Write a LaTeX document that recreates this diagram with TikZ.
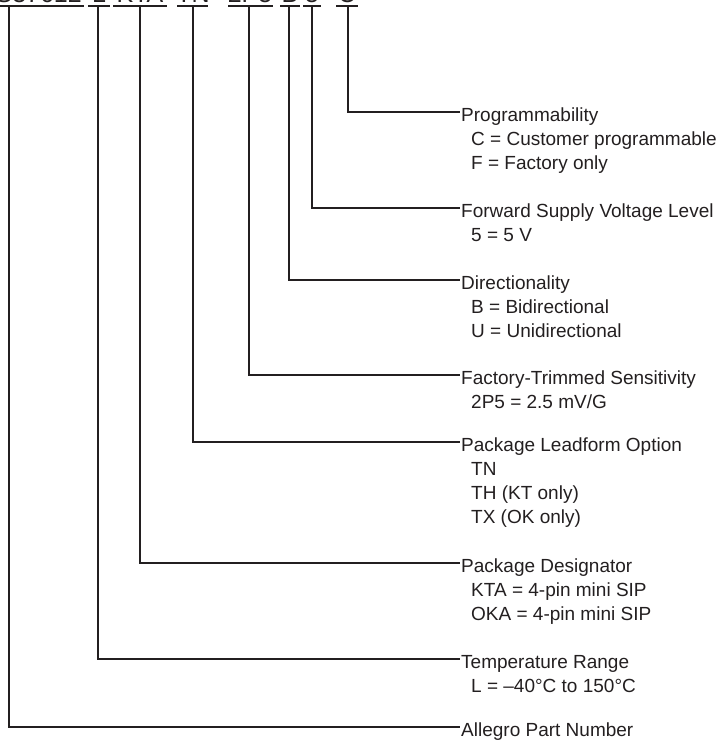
\documentclass[tikz,border=0pt]{standalone}
\usepackage{fontspec}
\setmainfont{Liberation Sans}
\definecolor{ink}{HTML}{231F20}
\begin{document}
\begin{tikzpicture}[x=1pt,y=-1pt,
  conn/.style={line width=1.3pt, draw=ink},
  uline/.style={line width=1.5pt, draw=ink},
  hdr/.style={anchor=base west, inner sep=0pt, font=\fontsize{19}{24}\selectfont, text=ink},
  pn/.style={anchor=base, inner sep=0pt, font=\fontsize{25}{30}\selectfont, text=ink}]
\useasboundingbox (0,0) rectangle (718,742);

% part number (mostly above the visible area)
\node[pn, anchor=base east] (pa) at (82,2) {ACS37612};
\node[pn] (pb) at (99,2) {L};
\node[pn] (pc) at (140,2) {KTA};
\node[pn] (pd) at (193,2) {TN};
\node[pn] (pe) at (250,2) {2P5};
\node[pn] (pf) at (290,2) {B};
\node[pn] (pg) at (312,2) {5};
\node[pn] (ph) at (347,2) {C};
\draw[uline] (0,6) -- (84,6);
\draw[uline] (88,6) -- (110,6);
\draw[uline] (113,6) -- (167,6);
\draw[uline] (177,6) -- (208,6);
\draw[uline] (228,6) -- (273,6);
\draw[uline] (280,6) -- (300,6);
\draw[uline] (303,6) -- (321,6);
\draw[uline] (336,6) -- (358,6);

% tops of the connectors
\coordinate (t1) at (348,6);
\coordinate (t2) at (312,6);
\coordinate (t3) at (289,6);
\coordinate (t4) at (249,6);
\coordinate (t5) at (193,6);
\coordinate (t6) at (140,6);
\coordinate (t7) at (98,6);
\coordinate (t8) at (9,6);

% ends of the connectors
\coordinate (e1) at (460,112);
\coordinate (e2) at (460,208);
\coordinate (e3) at (460,280);
\coordinate (e4) at (460,375);
\coordinate (e5) at (460,442);
\coordinate (e6) at (460,563);
\coordinate (e7) at (460,659);
\coordinate (e8) at (460,727);

% labels
\node[hdr] (h1) at (461,121) {Programmability};
\node[hdr] (h1a) at (471,145) {C = Customer programmable};
\node[hdr] (h1b) at (471,169) {F = Factory only};

\node[hdr] (h2) at (461,217) {Forward Supply Voltage Level};
\node[hdr] (h2a) at (471,241) {5 = 5 V};

\node[hdr] (h3) at (461,289) {Directionality};
\node[hdr] (h3a) at (471,313) {B = Bidirectional};
\node[hdr] (h3b) at (471,337) {U = Unidirectional};

\node[hdr] (h4) at (461,384) {Factory-Trimmed Sensitivity};
\node[hdr] (h4a) at (471,408) {2P5 = 2.5 mV/G};

\node[hdr] (h5) at (461,451) {Package Leadform Option};
\node[hdr] (h5a) at (471,475) {TN};
\node[hdr] (h5b) at (471,499) {TH (KT only)};
\node[hdr] (h5c) at (471,523) {TX (OK only)};

\node[hdr] (h6) at (461,572) {Package Designator};
\node[hdr] (h6a) at (471,596) {KTA = 4-pin mini SIP};
\node[hdr] (h6b) at (471,620) {OKA = 4-pin mini SIP};

\node[hdr] (h7) at (461,668) {Temperature Range};
\node[hdr] (h7a) at (471,692) {L = –40°C to 150°C};

\node[hdr] (h8) at (461,736) {Allegro Part Number};

% connectors
\foreach \i in {1,...,8}{
  \draw[conn] (t\i) |- (e\i);
}
\end{tikzpicture}
\end{document}
